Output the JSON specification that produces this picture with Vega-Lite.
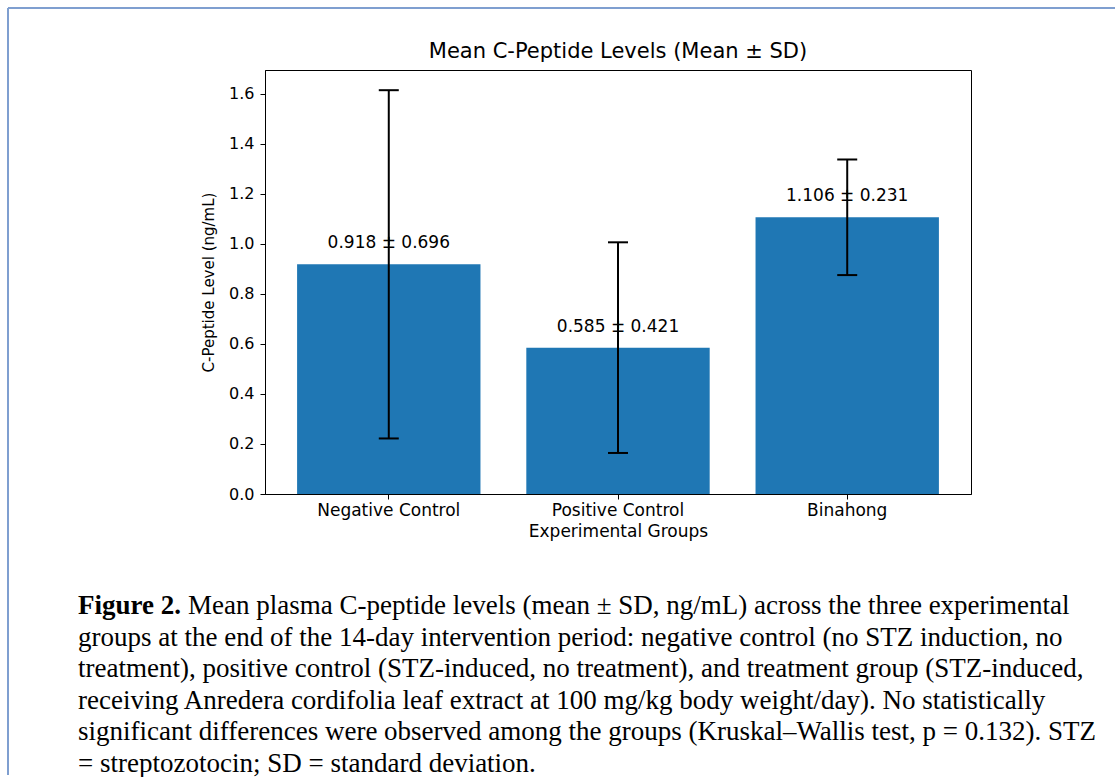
{
  "$schema": "https://vega.github.io/schema/vega-lite/v6.json",
  "background": "white",
  "padding": {"left": 7, "top": 7, "right": 0, "bottom": 0},
  "bounds": "flush",
  "center": true,
  "spacing": 112,
  "datasets": {
    "groups": [
      {"group": "Negative Control", "mean": 0.918, "sd": 0.696, "lo": 0.222, "hi": 1.614, "label": "0.918 ± 0.696"},
      {"group": "Positive Control", "mean": 0.585, "sd": 0.421, "lo": 0.164, "hi": 1.006, "label": "0.585 ± 0.421"},
      {"group": "Binahong", "mean": 1.106, "sd": 0.231, "lo": 0.875, "hi": 1.337, "label": "1.106 ± 0.231"}
    ],
    "caption": [
      {"line": 1, "part": "label", "text": "Figure 2."},
      {"line": 1, "part": "lead", "text": "Mean plasma C-peptide levels (mean ± SD, ng/mL) across the three experimental"},
      {"line": 2, "part": "body", "text": "groups at the end of the 14-day intervention period: negative control (no STZ induction, no"},
      {"line": 3, "part": "body", "text": "treatment), positive control (STZ-induced, no treatment), and treatment group (STZ-induced,"},
      {"line": 4, "part": "body", "text": "receiving Anredera cordifolia leaf extract at 100 mg/kg body weight/day). No statistically"},
      {"line": 5, "part": "body", "text": "significant differences were observed among the groups (Kruskal–Wallis test, p = 0.132). STZ"},
      {"line": 6, "part": "body", "text": "= streptozotocin; SD = standard deviation."}
    ],
    "frame": [{"edge": "border"}]
  },
  "vconcat": [
    {
      "width": 706,
      "height": 424,
      "title": {"text": "Mean C-Peptide Levels (Mean ± SD)", "font": "DejaVu Sans", "fontSize": 21, "fontWeight": "normal", "color": "#000", "offset": 8},
      "view": {"stroke": "#000", "strokeWidth": 1},
      "data": {"name": "groups"},
      "encoding": {
        "x": {
          "field": "group", "type": "nominal", "sort": null,
          "scale": {"paddingInner": 0.2, "paddingOuter": 0.14},
          "axis": {"title": "Experimental Groups", "labelAngle": 0, "bandPosition": 0.5, "labelPadding": 3, "titlePadding": 5, "labelFontSize": 17, "titleFontSize": 17}
        }
      },
      "layer": [
        {
          "mark": {"type": "bar", "color": "#1f77b4"},
          "encoding": {
            "y": {"field": "mean", "type": "quantitative", "scale": {"domain": [0, 1.6947], "nice": false}, "axis": {"title": "C-Peptide Level (ng/mL)", "values": [0, 0.2, 0.4, 0.6, 0.8, 1.0, 1.2, 1.4, 1.6], "format": ".1f", "labelPadding": 6, "titlePadding": 12, "labelFontSize": 16, "titleFontSize": 15}}
          }
        },
        {
          "mark": {"type": "rule", "color": "#000", "strokeWidth": 2},
          "encoding": {
            "y": {"field": "lo", "type": "quantitative", "scale": {"domain": [0, 1.6947], "nice": false}, "title": "C-Peptide Level (ng/mL)"},
            "y2": {"field": "hi"}
          }
        },
        {
          "mark": {"type": "tick", "color": "#000", "thickness": 2, "size": 20, "opacity": 1},
          "encoding": {
            "y": {"field": "lo", "type": "quantitative", "scale": {"domain": [0, 1.6947], "nice": false}, "title": "C-Peptide Level (ng/mL)"}
          }
        },
        {
          "mark": {"type": "tick", "color": "#000", "thickness": 2, "size": 20, "opacity": 1},
          "encoding": {
            "y": {"field": "hi", "type": "quantitative", "scale": {"domain": [0, 1.6947], "nice": false}, "title": "C-Peptide Level (ng/mL)"}
          }
        },
        {
          "mark": {"type": "text", "dy": -21, "fontSize": 17, "font": "DejaVu Sans", "color": "#000"},
          "encoding": {
            "y": {"field": "mean", "type": "quantitative", "scale": {"domain": [0, 1.6947], "nice": false}, "title": "C-Peptide Level (ng/mL)"},
            "text": {"field": "label"}
          }
        }
      ]
    },
    {
      "width": 1080,
      "height": 158,
      "view": {"stroke": null},
      "resolve": {"scale": {"y": "independent"}},
      "layer": [
        {
          "data": {"name": "caption"},
          "transform": [{"filter": "datum.part === 'label'"}],
          "mark": {"type": "text", "align": "left", "baseline": "middle", "font": "Liberation Serif", "fontSize": 27, "fontWeight": "bold", "color": "#000"},
          "encoding": {
            "x": {"datum": 0, "type": "quantitative", "scale": {"domain": [0, 1.06]}, "axis": null},
            "y": {"field": "line", "type": "ordinal", "scale": {"type": "point", "padding": 0, "domain": [1, 2, 3, 4, 5, 6]}, "axis": null},
            "text": {"field": "text"}
          }
        },
        {
          "data": {"name": "caption"},
          "transform": [{"filter": "datum.part === 'lead'"}],
          "mark": {"type": "text", "align": "left", "baseline": "middle", "font": "Liberation Serif", "fontSize": 27, "color": "#000"},
          "encoding": {
            "x": {"datum": 0.108, "type": "quantitative", "scale": {"domain": [0, 1.06]}, "axis": null},
            "y": {"field": "line", "type": "ordinal", "scale": {"type": "point", "padding": 0, "domain": [1, 2, 3, 4, 5, 6]}, "axis": null},
            "text": {"field": "text"}
          }
        },
        {
          "data": {"name": "caption"},
          "transform": [{"filter": "datum.part === 'body'"}],
          "mark": {"type": "text", "align": "left", "baseline": "middle", "font": "Liberation Serif", "fontSize": 27, "color": "#000"},
          "encoding": {
            "x": {"datum": 0, "type": "quantitative", "scale": {"domain": [0, 1.06]}, "axis": null},
            "y": {"field": "line", "type": "ordinal", "scale": {"type": "point", "padding": 0, "domain": [1, 2, 3, 4, 5, 6]}, "axis": null},
            "text": {"field": "text"}
          }
        },
        {
          "data": {"name": "frame"},
          "mark": {"type": "rule", "color": "#7f9fd0", "strokeWidth": 2},
          "encoding": {
            "x": {"datum": -0.0687, "type": "quantitative", "scale": {"domain": [0, 1.06]}, "axis": null},
            "x2": {"datum": 1.0178},
            "y": {"datum": 4.7848, "type": "quantitative", "scale": {"domain": [0, 1]}, "axis": null}
          }
        },
        {
          "data": {"name": "frame"},
          "mark": {"type": "rule", "color": "#7f9fd0", "strokeWidth": 2},
          "encoding": {
            "x": {"datum": -0.0687, "type": "quantitative", "scale": {"domain": [0, 1.06]}, "axis": null},
            "y": {"datum": 4.7848, "type": "quantitative", "scale": {"domain": [0, 1]}, "axis": null},
            "y2": {"datum": -0.07}
          }
        }
      ]
    }
  ],
  "config": {
    "font": "DejaVu Sans",
    "axis": {
      "labelFont": "DejaVu Sans", "titleFont": "DejaVu Sans",
      "labelFontSize": 13, "titleFontSize": 13,
      "labelColor": "#000", "titleColor": "#000", "titleFontWeight": "normal",
      "domainColor": "#000", "tickColor": "#000", "tickSize": 5, "grid": false
    }
  }
}
